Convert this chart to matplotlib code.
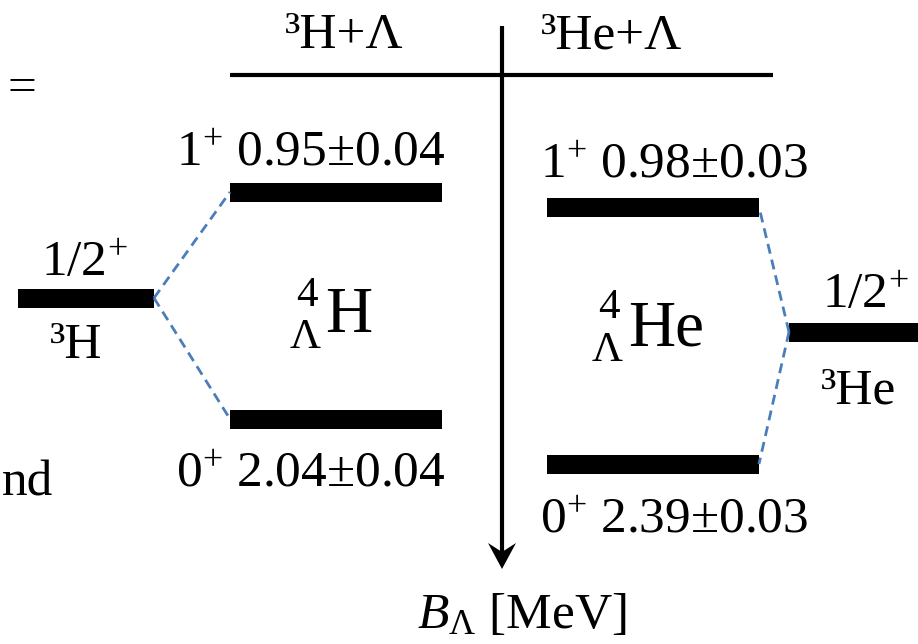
import matplotlib
matplotlib.use('Agg')
import matplotlib.pyplot as plt
from matplotlib.patches import Polygon

# level data (B_Lambda in MeV)
thresholdNames = ['³H+Λ', '³He+Λ']
coreNames = ['³H', '³He']
coreSpin = '1/2'
hyperNames = ['H', 'He']
stateSpins = ['1', '0']
bLambdaH = [0.95, 2.04]
errH = [0.04, 0.04]
bLambdaHe = [0.98, 2.39]
errHe = [0.03, 0.03]

plt.rcParams['mathtext.fontset'] = 'custom'
plt.rcParams['mathtext.rm'] = 'Liberation Serif'
plt.rcParams['mathtext.it'] = 'Liberation Serif:italic'
plt.rcParams['mathtext.bf'] = 'Liberation Serif:bold'
plt.rcParams['font.family'] = ['Liberation Serif', 'DejaVu Serif']

# schematic layout in pixel units (diagram is not to scale)
layout = [
    dict(levelX=(230, 442), levelY=[192, 419], labelX=311, labelDy=[-26, 68],
         coreX=(18, 154), coreY=298, spinX=84, spinDy=-22, nameX=76, nameDy=60,
         threshX=344, preX=307, preY=(306, 348), nucX=325, nucY=332),
    dict(levelX=(547, 759), levelY=[207, 464], labelX=674, labelDy=[-29, 69],
         coreX=(789, 930), coreY=332, spinX=865, spinDy=-24, nameX=858, nameDy=71,
         threshX=612, preX=609, preY=(318, 361), nucX=628, nucY=345),
]
barH = 19
fs = 37
dashColor = '#4A7EBB'

fig = plt.figure(figsize=(9.18, 6.44), dpi=100)
ax = fig.add_axes([0, 0, 1, 1])
ax.set_xlim(0, 918)
ax.set_ylim(644, 0)
ax.axis('off')

# threshold line and B_Lambda axis arrow
ax.plot([230, 773], [75, 75], color='black', lw=3.0, solid_capstyle='butt')
ax.plot([502, 502], [26, 552], color='black', lw=3.0, solid_capstyle='butt')
ax.add_patch(Polygon([(502, 569), (488, 543), (502, 552), (516, 543)],
                     closed=True, color='black', lw=0))

for i, (vals, errs) in enumerate([(bLambdaH, errH), (bLambdaHe, errHe)]):
    L = layout[i]
    x0, x1 = L['levelX']
    ax.text(L['threshX'], 48, thresholdNames[i], fontsize=fs, ha='center', va='baseline')
    for j, (b, e) in enumerate(zip(vals, errs)):
        y = L['levelY'][j]
        ax.barh(y, x1 - x0, left=x0, height=barH, color='black')
        ax.text(L['labelX'], y + L['labelDy'][j],
                r'$%s^{+}$ %.2f±%.2f' % (stateSpins[j], b, e),
                fontsize=fs, ha='center', va='baseline')
    # core nucleus level
    c0, c1 = L['coreX']
    cy = L['coreY']
    ax.barh(cy, c1 - c0, left=c0, height=barH, color='black')
    ax.text(L['spinX'], cy + L['spinDy'], coreSpin + r'$^{+}$', fontsize=fs,
            ha='center', va='baseline')
    ax.text(L['nameX'], cy + L['nameDy'], coreNames[i], fontsize=fs,
            ha='center', va='baseline')
    # dashed connections core -> hypernuclear levels
    cx = c1 if i == 0 else c0
    lx = x0 if i == 0 else x1
    for y in L['levelY']:
        ax.plot([cx, lx], [cy, y], color=dashColor, lw=2.0, dashes=(3.6, 2.2))
    # hypernucleus label
    ax.text(L['preX'], L['preY'][0], '4', fontsize=31, ha='center', va='baseline')
    ax.text(L['preX'] - 2, L['preY'][1], 'Λ', fontsize=31, ha='center', va='baseline')
    ax.text(L['nucX'], L['nucY'], hyperNames[i], fontsize=47, ha='left', va='baseline')

ax.text(522, 628, r'$B_{\Lambda}$ [MeV]', fontsize=fs, ha='center', va='baseline')

# fragments of surrounding text at the frame edge
ax.text(22, 101, '=', fontsize=fs, ha='center', va='baseline')
ax.text(2, 495, 'nd', fontsize=fs, ha='left', va='baseline')

fig.savefig('out.png', dpi=100)
